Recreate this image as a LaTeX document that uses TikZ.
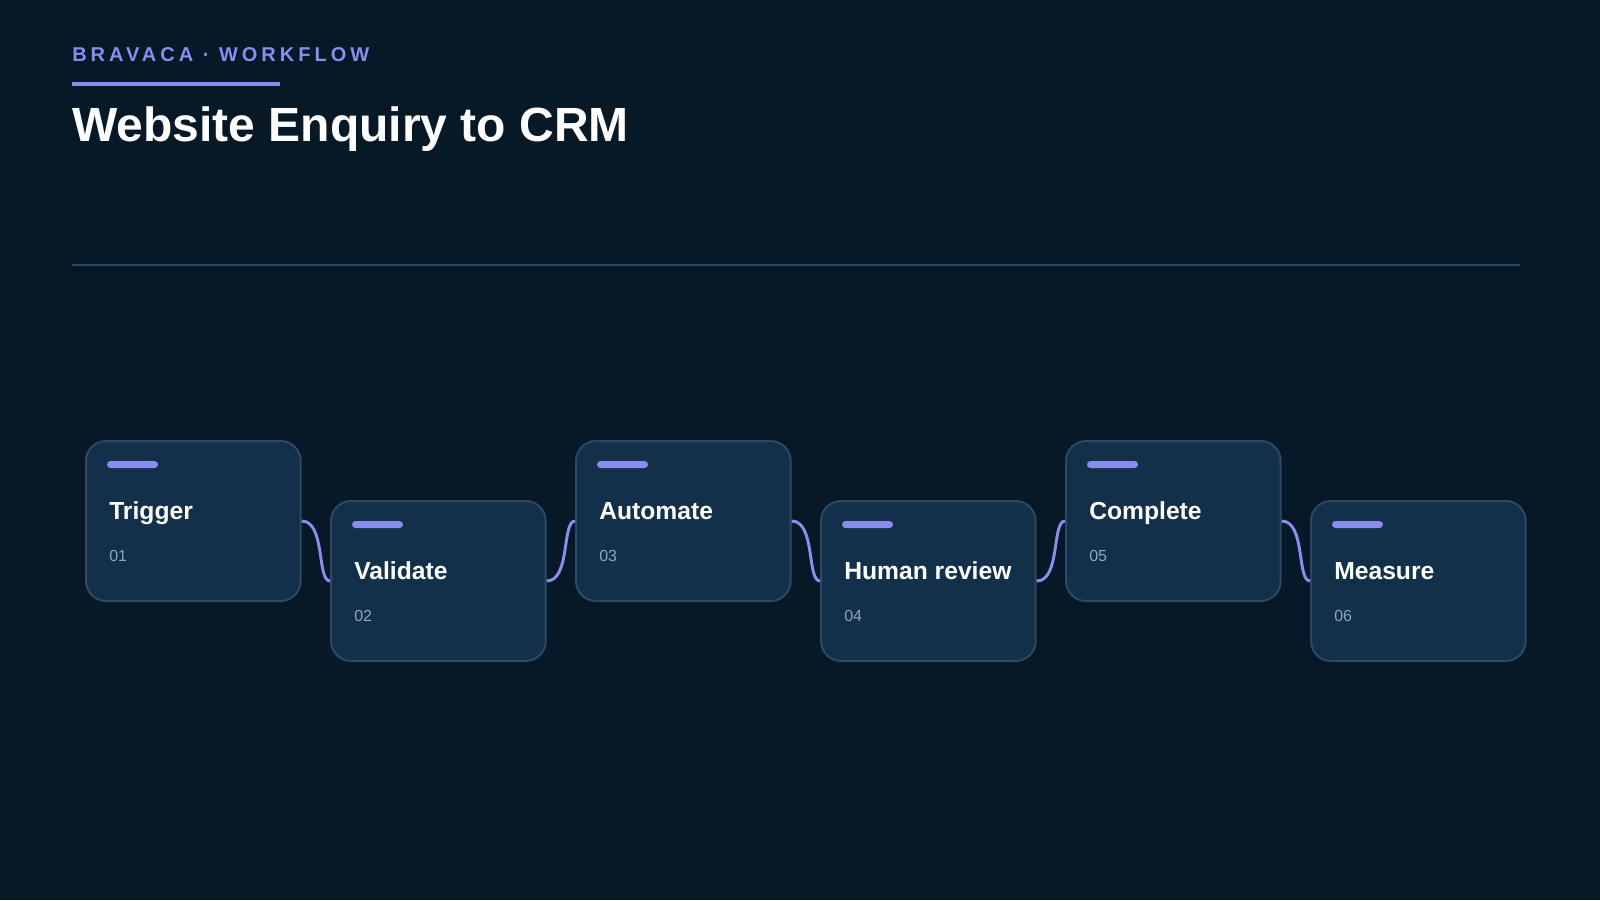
\documentclass[tikz,border=0pt]{standalone}
\usepackage{fontspec}
\setmainfont{Liberation Sans}
\definecolor{bg}{HTML}{071826}
\definecolor{card}{HTML}{12304A}
\definecolor{cardb}{HTML}{2A4A63}
\definecolor{acc}{HTML}{8B8CF0}
\definecolor{num}{HTML}{8FA5B8}
\begin{document}
\begin{tikzpicture}[x=0.75pt,y=-0.75pt,
  cardst/.style={draw=cardb,line width=1.5pt,fill=card,rounded corners=15pt,minimum width=161pt,minimum height=120pt,anchor=north west,inner sep=0pt},
  bar/.style={fill=acc,rounded corners=2.6pt},
  ttl/.style={anchor=base west,text=white,font=\bfseries\fontsize{18.5}{20}\selectfont,inner sep=0pt},
  nm/.style={anchor=west,text=num,font=\fontsize{12}{14}\selectfont,inner sep=0pt},
  conn/.style={draw=acc,line width=2.2pt}]
\fill[bg] (0,0) rectangle (1600,900);
\useasboundingbox (0,0) rectangle (1600,900);
\node[anchor=west,inner sep=0pt,text=acc,font=\bfseries\fontsize{15}{18}\selectfont\addfontfeature{LetterSpace=20}] (hdr) at (72,55) {BRAVACA · WORKFLOW};
\fill[acc] (72,82) rectangle (280,86);
\node[anchor=west,inner sep=0pt,text=white,font=\bfseries\fontsize{36}{40}\selectfont] (title) at (72,129) {Website Enquiry to CRM};
\draw[cardb,line width=1.5pt] (72,265) -- (1520,265);
\foreach \i/\t/\n/\yy in {1/Trigger/01/440,2/Validate/02/500,3/Automate/03/440,4/Human review/04/500,5/Complete/05/440,6/Measure/06/500}{
  \pgfmathsetmacro\xx{85+245*(\i-1)}
  \node[cardst] (c\i) at (\xx,\yy) {};
  \fill[bar] (\xx+22,\yy+21) rectangle (\xx+73,\yy+28);
  \node[ttl] (t\i) at (\xx+24,\yy+79) {\t};
  \node[nm] (n\i) at (\xx+24,\yy+116) {\n};
}
\foreach \a/\b in {1/2,2/3,3/4,4/5,5/6}{
  \draw[conn] (c\a.east) .. controls ([xshift=18pt]c\a.east) and ([xshift=-10pt]c\b.west) .. (c\b.west);
}
\end{tikzpicture}
\end{document}
